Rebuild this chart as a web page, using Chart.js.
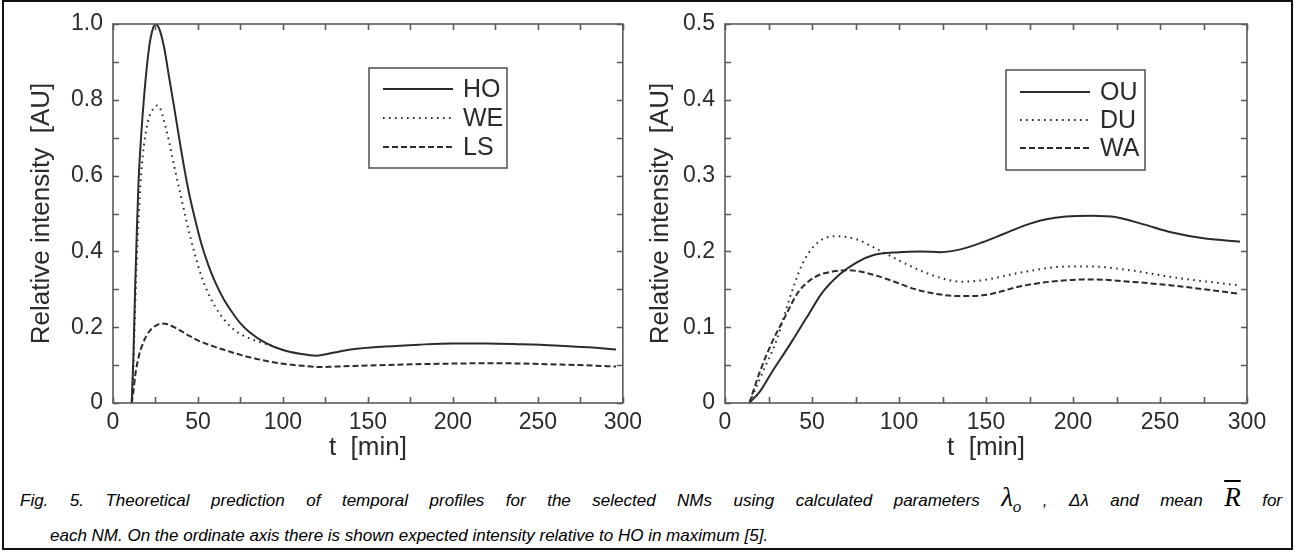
<!DOCTYPE html>
<html><head><meta charset="utf-8">
<script src="https://cdn.jsdelivr.net/npm/chart.js@4.4.1/dist/chart.umd.min.js"></script>
<style>
html,body{margin:0;padding:0;background:#fff;}
body{width:1296px;height:554px;position:relative;overflow:hidden;}
#frame{position:absolute;left:2px;top:0;width:1291px;height:550px;border:2px solid #111;box-sizing:border-box;}
.box{position:absolute;top:0;width:648px;height:470px;}
#b1{left:0}
#b2{left:640px}
#cap{position:absolute;left:20px;top:483px;width:1262px;font-family:'Liberation Sans Narrow','Liberation Sans',sans-serif;font-style:italic;font-size:17px;color:#000;line-height:29px;}
#cap .l1{text-align:justify;text-align-last:justify;white-space:normal;}
#cap .l2{padding-left:30px;white-space:nowrap;}
.lam{font-family:'Liberation Serif';font-style:italic;font-size:27px;}
.rb{font-family:'Liberation Serif';font-style:italic;font-size:27px;text-decoration:overline;}
</style></head>
<body>
<div id="frame"></div>
<div class="box" id="b1"><canvas id="c1" width="648" height="470"></canvas></div>
<div class="box" id="b2"><canvas id="c2" width="648" height="470"></canvas></div>
<div id="cap">
<div class="l1">Fig. 5. Theoretical prediction of temporal profiles for the selected NMs using calculated parameters <span class="lam">λ<sub style="font-size:17px">o</sub></span> , Δλ and mean <span class="rb">R</span> for</div>
<div class="l2">each NM. On the ordinate axis there is shown expected intensity relative to HO in maximum [5].</div>
</div>
<script>
// ---------- data (t in min, relative intensity in AU) ----------
const xTicksMax = 300;
const hoT = [11,12,13,14,15,16.5,18.5,21,23,25,27,30,33,36,40,44,48,52,56,60,65,70,75,80,90,100,110,120,130,140,160,180,200,220,240,260,280,296];
const hoV = [0,0.12,0.3,0.45,0.58,0.7,0.82,0.93,0.98,1.0,0.99,0.94,0.86,0.78,0.67,0.57,0.49,0.42,0.365,0.32,0.275,0.24,0.21,0.188,0.158,0.14,0.13,0.125,0.133,0.141,0.149,0.154,0.157,0.157,0.155,0.152,0.147,0.141];
const weT = [11,12,13,14,15,16.5,18.5,21,23.5,26,28,30,33,36,40,44,48,52,56,60,65,70,75,80,85,90,100];
const weV = [0,0.1,0.25,0.38,0.48,0.6,0.69,0.75,0.775,0.785,0.775,0.745,0.69,0.625,0.545,0.465,0.395,0.335,0.29,0.255,0.222,0.198,0.182,0.171,0.163,0.156,0.14];
const lsT = [11,12,13,15,17,20,23,26,29,32,36,40,45,50,55,60,67,75,84,95,103,112,121,130,150,175,200,225,250,275,296];
const lsV = [0,0.03,0.07,0.12,0.15,0.18,0.197,0.206,0.21,0.208,0.2,0.19,0.177,0.165,0.156,0.148,0.138,0.127,0.117,0.107,0.102,0.098,0.095,0.096,0.099,0.102,0.104,0.105,0.103,0.1,0.096];

const ouT = [14,20,27,37,47,56,66,76,85,100,112,124,136,148,160,172,184,196,211,225,240,257,276,296];
const ouV = [0,0.015,0.041,0.076,0.113,0.146,0.17,0.186,0.195,0.199,0.2,0.199,0.203,0.212,0.223,0.234,0.242,0.246,0.247,0.245,0.236,0.225,0.217,0.213];
const duT = [14,22.5,30,37,44,51.5,63.5,75.5,87.5,100,112,124,136,148,172,196,211,233,257,296];
const duV = [0,0.045,0.085,0.137,0.181,0.208,0.22,0.216,0.203,0.188,0.175,0.165,0.16,0.162,0.173,0.18,0.18,0.175,0.166,0.155];
const waT = [14,20,27,35,42,51.5,63.5,71,80.5,95,109.5,124,136,148,172,196,211,233,257,296];
const waV = [0,0.041,0.08,0.116,0.146,0.166,0.174,0.175,0.172,0.162,0.15,0.143,0.141,0.142,0.155,0.162,0.163,0.16,0.155,0.144];

const leftNames = ['HO','WE','LS'];
const rightNames = ['OU','DU','WA'];
const xLabelStep = 50, xTickStep = 25;
const leftYMax = 1.0, leftYStep = 0.1, leftYLabelStep = 0.2;
const rightYMax = 0.5, rightYStep = 0.05, rightYLabelStep = 0.1;

// ---------- helpers ----------
const pts = (t, v) => t.map((x, i) => ({x, y: v[i]}));
const FONT = "'Liberation Sans Narrow','Liberation Sans',Arial,sans-serif";
const INK = '#2b2b2b', AXIS = '#5a5a5a';
const TICK_SIZE = 23, TITLE_SIZE = 26, LEG_SIZE = 25;
const styles = [
  {borderDash: [], borderWidth: 2},
  {borderDash: [1.6, 4.4], borderWidth: 2},
  {borderDash: [6, 3], borderWidth: 2}
];

const frameTicks = {
  id: 'frameTicks',
  afterDatasetsDraw(chart) {
    const {ctx, chartArea: a, scales: {x, y}} = chart;
    ctx.save();
    ctx.strokeStyle = AXIS; ctx.lineWidth = 1.6;
    ctx.strokeRect(a.left, a.top, a.right - a.left, a.bottom - a.top);
    const L = 6;
    ctx.beginPath();
    x.ticks.forEach(t => { const p = Math.round(x.getPixelForValue(t.value)) + 0.5;
      ctx.moveTo(p, a.bottom); ctx.lineTo(p, a.bottom - L);
      ctx.moveTo(p, a.top); ctx.lineTo(p, a.top + L); });
    y.ticks.forEach(t => { const p = Math.round(y.getPixelForValue(t.value)) + 0.5;
      ctx.moveTo(a.left, p); ctx.lineTo(a.left + L, p);
      ctx.moveTo(a.right, p); ctx.lineTo(a.right - L, p); });
    ctx.stroke();
    ctx.restore();
  }
};

const boxLegend = {
  id: 'boxLegend',
  afterDraw(chart, args, o) {
    const {ctx} = chart;
    ctx.save();
    ctx.strokeStyle = AXIS; ctx.lineWidth = 1.6;
    ctx.strokeRect(o.x, o.y, o.w, o.h);
    ctx.font = LEG_SIZE + 'px ' + FONT; ctx.textBaseline = 'middle'; ctx.fillStyle = INK;
    chart.data.datasets.forEach((d, i) => {
      const yy = o.rowY[i];
      ctx.beginPath();
      ctx.strokeStyle = d.borderColor; ctx.lineWidth = d.borderWidth;
      ctx.setLineDash(d.borderDash || []);
      ctx.moveTo(o.lineX0, yy); ctx.lineTo(o.lineX1, yy); ctx.stroke();
      ctx.setLineDash([]);
      ctx.fillText(d.label, o.textX, yy + 1);
    });
    ctx.restore();
  }
};

function makeChart(id, names, series, yMax, yStep, yLabelStep, yWidth, padRight, titlePad, legend) {
  return new Chart(document.getElementById(id), {
    type: 'line',
    data: {
      datasets: series.map((s, i) => ({
        label: names[i], data: pts(s[0], s[1]),
        borderColor: INK, borderWidth: styles[i].borderWidth, borderDash: styles[i].borderDash,
        pointRadius: 0, tension: 0.4, cubicInterpolationMode: 'monotone', fill: false
      }))
    },
    options: {
      responsive: false, animation: false,
      layout: {padding: {top: 24, right: padRight, left: 0, bottom: 0}},
      plugins: {legend: {display: false}, tooltip: {enabled: false}, boxLegend: legend},
      scales: {
        x: {
          type: 'linear', min: 0, max: xTicksMax,
          grid: {display: false, drawTicks: false},
          border: {display: false},
          ticks: {stepSize: xTickStep, padding: 6, color: INK, font: {family: FONT, size: TICK_SIZE},
            maxRotation: 0, autoSkip: false,
            callback: v => (Math.round(v) % xLabelStep === 0 ? String(Math.round(v)) : '')},
          title: {display: true, text: 't  [min]', color: INK, font: {family: FONT, size: TITLE_SIZE}, padding: {top: 7, bottom: 7}},
          afterFit: s => { s.height = 67; }
        },
        y: {
          min: 0, max: yMax,
          grid: {display: false, drawTicks: false},
          border: {display: false},
          ticks: {stepSize: yStep, padding: 10, color: INK, font: {family: FONT, size: TICK_SIZE}, autoSkip: false,
            callback: v => { const k = Math.round(v * 1000), st = Math.round(yLabelStep * 1000);
              if (k % st !== 0) return ''; return k === 0 ? '0' : (k / 1000).toFixed(1); }},
          title: {display: true, text: 'Relative intensity  [AU]', color: INK, font: {family: FONT, size: TITLE_SIZE}, padding: {top: titlePad, bottom: 0}},
          afterFit: s => { s.width = yWidth; }
        }
      }
    },
    plugins: [frameTicks, boxLegend]
  });
}

makeChart('c1', leftNames, [[hoT, hoV], [weT, weV], [lsT, lsV]], leftYMax, leftYStep, leftYLabelStep, 113, 23, 26,
  {x: 369, y: 68, w: 138, h: 100, lineX0: 383, lineX1: 453, textX: 463, rowY: [89, 118, 147]});
makeChart('c2', rightNames, [[ouT, ouV], [duT, duV], [waT, waV]], rightYMax, rightYStep, rightYLabelStep, 85, 41, 5,
  {x: 366, y: 70, w: 139, h: 100, lineX0: 380, lineX1: 450, textX: 460, rowY: [92, 120, 148]});
</script>
</body></html>
